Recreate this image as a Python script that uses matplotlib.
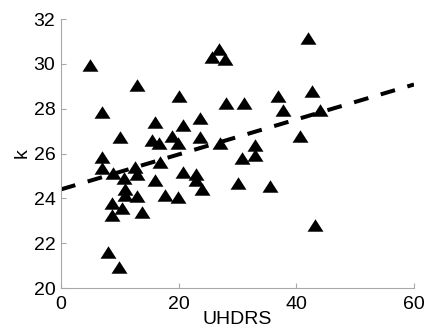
#!/usr/bin/env python3

"""Scatter of k against UHDRS with a dashed linear fit."""

import matplotlib
import numpy as np

matplotlib.use("Agg")
from matplotlib import pyplot as plt

# values
uhdrs = [
    5.0, 7.0, 12.9, 10.1, 6.9, 6.9, 8.8, 10.7, 10.9, 10.9,
    12.6, 12.9, 13.0, 16.0, 15.4, 16.7, 16.8, 15.9, 17.7, 19.8,
    18.8, 19.9, 20.0, 20.8, 20.8, 23.6, 23.7, 23.0, 22.9, 23.9,
    8.7, 10.3, 8.6, 13.8, 8.0, 9.9, 26.9, 25.6, 27.9, 28.1,
    31.1, 36.9, 37.8, 42.0, 42.6, 44.0, 27.1, 40.7, 33.0, 33.0,
    30.7, 30.0, 35.6, 43.1,
]
k_values = [
    29.95, 27.85, 29.05, 26.75, 25.86, 25.37, 25.14, 24.90, 24.42, 24.13,
    25.40, 25.07, 24.12, 27.42, 26.60, 26.45, 25.60, 24.84, 24.14, 24.08,
    26.78, 26.45, 28.55, 27.27, 25.18, 27.57, 26.75, 25.10, 24.80, 24.40,
    23.78, 23.55, 23.25, 23.40, 21.62, 20.94, 30.66, 30.32, 30.21, 28.24,
    28.27, 28.56, 27.96, 31.14, 28.78, 27.92, 26.49, 26.80, 26.37, 25.93,
    25.78, 24.69, 24.54, 22.80,
]
fit_intercept = 24.4
fit_slope = 0.078

x_ticks = [0, 20, 40, 60]
y_ticks = [20, 22, 24, 26, 28, 30, 32]

plt.rcParams["font.family"] = ["Liberation Sans", "DejaVu Sans"]
plt.rcParams["font.size"] = 14

fig = plt.figure(figsize=(4.3, 3.34), dpi=100)
ax = fig.add_axes([0.1419, 0.1377, 0.8209, 0.8053])

# triangle a bit wider than tall, like the MATLAB marker
tri = [(-1.0, -0.78), (1.0, -0.78), (0.0, 0.78), (-1.0, -0.78)]
ax.plot(uhdrs, k_values, linestyle="none", marker=tri, markersize=11.5,
        color="black", markeredgewidth=0, zorder=3)

fit_x = np.array([x_ticks[0], x_ticks[-1]], dtype=float)
ax.plot(fit_x, fit_intercept + fit_slope * fit_x, color="black",
        linewidth=2.9, linestyle=(0, (3.7, 3.2)), zorder=2,
        dash_capstyle="butt")

ax.set_xlim(x_ticks[0], x_ticks[-1])
ax.set_ylim(y_ticks[0], y_ticks[-1])
ax.set_xticks(x_ticks)
ax.set_yticks(y_ticks)

for side in ["top", "right"]:
    ax.spines[side].set_visible(False)
for side in ["left", "bottom"]:
    ax.spines[side].set_color("#a8a8a8")
    ax.spines[side].set_linewidth(0.8)

ax.tick_params(direction="in", length=3.5, width=0.8, color="#a8a8a8", labelcolor="black")
ax.tick_params(axis="x", pad=6)
ax.tick_params(axis="y", pad=4)

ax.set_xlabel("UHDRS", labelpad=-2)
ax.set_ylabel("k", labelpad=2)

fig.savefig("out.png", dpi=100)
plt.close(fig)
